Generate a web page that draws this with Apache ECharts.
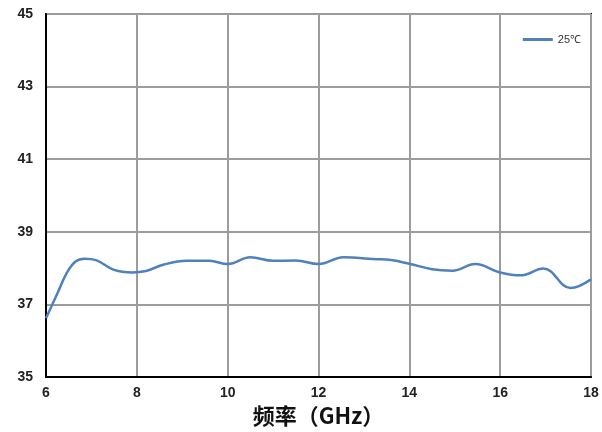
<!DOCTYPE html>
<html>
<head>
<meta charset="utf-8">
<script src="https://cdn.jsdelivr.net/npm/echarts@6/dist/echarts.min.js"></script>
<style>
  html, body { margin: 0; padding: 0; background: #fff; }
  #chart { width: 602px; height: 432px; }
</style>
</head>
<body>
<div id="chart"></div>
<script>
// 频率 (GHz) 与测量值
const freqs  = [6.0, 6.25, 6.45, 6.65, 6.85, 7.1, 7.5, 7.9, 8.2, 8.6, 9.1, 9.6, 10.0, 10.5, 11.0, 11.5, 12.0, 12.55, 13.2, 13.6, 14.0, 14.5, 14.95, 15.45, 16.0, 16.45, 16.95, 17.55, 18.0]
const values = [36.62, 37.3, 37.85, 38.18, 38.26, 38.22, 37.95, 37.88, 37.92, 38.1, 38.2, 38.2, 38.11, 38.3, 38.2, 38.21, 38.11, 38.3, 38.25, 38.22, 38.12, 37.97, 37.93, 38.11, 37.88, 37.8, 37.99, 37.45, 37.69]
const seriesName = '25℃'

const chart = echarts.init(document.getElementById('chart'))
chart.setOption({
  animation: false,
  grid: {
    left: 46, right: 11, top: 14, bottom: 55,
    outerBoundsMode: 'none',
    show: true, borderColor: '#000', borderWidth: 2
  },
  legend: {
    data: [seriesName],
    right: 16, top: 29,
    icon: 'rect',
    itemWidth: 30, itemHeight: 3, itemGap: 4,
    textStyle: { fontSize: 11, color: '#333', fontFamily: 'Liberation Sans' }
  },
  xAxis: {
    type: 'value', min: 6, max: 18, interval: 2,
    name: '频率（GHz）', nameLocation: 'middle', nameGap: 27,
    nameTextStyle: { fontSize: 22, fontWeight: 'bold', color: '#111', fontFamily: 'Noto Sans CJK SC' },
    axisLine: { show: true, lineStyle: { color: '#000', width: 2 } },
    axisTick: { show: false },
    axisLabel: { fontSize: 14, fontWeight: 'bold', color: '#222', margin: 9, fontFamily: 'Liberation Sans' },
    splitLine: { show: true, lineStyle: { color: '#9c9c9c', width: 2 } }
  },
  yAxis: {
    type: 'value', min: 35, max: 45, interval: 2,
    axisLine: { show: true, lineStyle: { color: '#000', width: 2 } },
    axisTick: { show: false },
    axisLabel: { fontSize: 14, fontWeight: 'bold', color: '#222', margin: 13, fontFamily: 'Liberation Sans' },
    splitLine: { show: true, lineStyle: { color: '#9c9c9c', width: 2 } }
  },
  series: [{
    name: seriesName,
    type: 'line',
    smooth: 0.4,
    symbol: 'none',
    data: freqs.map((f, i) => [f, values[i]]),
    lineStyle: { color: '#4f81bd', width: 2.5 },
    itemStyle: { color: '#4f81bd' }
  }]
})
</script>
</body>
</html>
